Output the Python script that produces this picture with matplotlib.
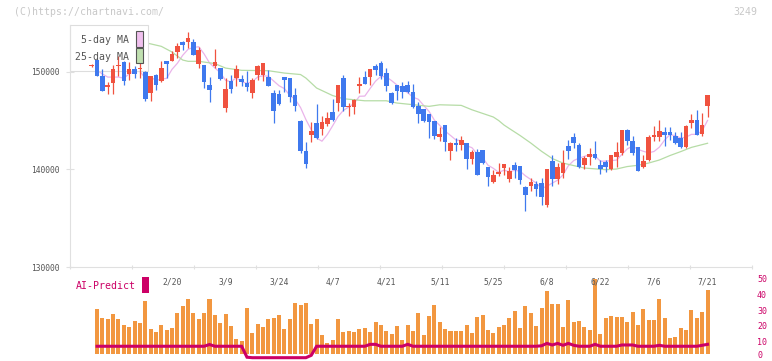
import numpy as np
import matplotlib
matplotlib.use("Agg")
import matplotlib.pyplot as plt
from matplotlib.patches import Rectangle

# daily candles (oldest first), prices in yen
open_ = [150600, 151200, 149570, 148380, 148820, 150610, 150970, 149770, 150250, 150280,
         149920, 147800, 149670, 149000, 151100, 151100, 151990, 153010, 153010, 153010,
         150810, 150660, 148650, 150590, 150350, 146270, 149000, 149330, 149260, 148820,
         147800, 149670, 149670, 149430, 147800, 147700, 149400, 149330, 147600, 144970,
         141880, 143540, 144740, 144150, 144630, 145860, 146780, 149330, 146340, 146370,
         148550, 149430, 149400, 150590, 150870, 149840, 147800, 148650, 148550, 148650,
         147900, 146440, 146170, 145650, 144910, 143270, 144500, 141910, 142690, 142520,
         142690, 141090, 141770, 142010, 140240, 138710, 139560, 140140, 139050, 140480,
         140370, 138200, 138330, 138540, 138610, 136390, 140820, 139050, 139630, 142420,
         143310, 142520, 140480, 141230, 141570, 140480, 140750, 140070, 141260, 141670,
         144050, 142870, 142280, 140240, 140990, 143270, 143270, 143790, 143790, 143380,
         143200, 142280, 144770, 145010, 143610, 146500]
high = [150760, 151270, 150250, 148920, 150690, 151580, 151040, 150940, 150530, 151070,
        150020, 149590, 149700, 151040, 151120, 152060, 152910, 153140, 154030, 153350,
        152500, 150700, 149430, 152330, 150400, 149330, 149670, 150630, 149670, 150020,
        149330, 150690, 150900, 150180, 148140, 148110, 149450, 149380, 148280, 145070,
        142760, 144840, 146680, 145420, 145860, 147220, 148670, 149670, 146780, 147190,
        149430, 150020, 150300, 150760, 151040, 150350, 147870, 148670, 148920, 149030,
        148720, 146880, 146220, 145680, 144940, 144330, 144530, 142760, 143200, 143440,
        142740, 142010, 142110, 142030, 140260, 139900, 140650, 140600, 140210, 140750,
        140390, 138330, 139120, 138780, 139120, 140090, 141500, 140650, 142010, 143030,
        143710, 142690, 141400, 142180, 142870, 140930, 140990, 141520, 142800, 144070,
        144120, 143380, 142330, 141500, 143540, 144400, 145010, 144300, 144300, 143820,
        143820, 144560, 145650, 146030, 145760, 147600]
low = [150460, 149540, 147970, 147730, 147730, 149510, 148650, 149160, 149330, 149330,
       146950, 147010, 148140, 148920, 149330, 151040, 151380, 152220, 152400, 151650,
       150320, 148280, 146880, 150350, 149160, 145860, 147800, 148480, 148480, 147970,
       147290, 149160, 149000, 148480, 144740, 146600, 147900, 146910, 145990, 141700,
       140170, 142800, 143100, 143540, 144400, 144970, 145930, 145930, 145420, 145650,
       147800, 148720, 148590, 149670, 149260, 148040, 146710, 147050, 147290, 147800,
       146270, 144740, 144840, 143200, 143130, 142870, 141910, 140990, 141910, 142010,
       140070, 140550, 139390, 140600, 138330, 138610, 139290, 139450, 138710, 139120,
       138500, 135720, 137760, 137250, 136390, 136150, 138270, 138500, 139120, 141090,
       142180, 140140, 140070, 140480, 141110, 139560, 139730, 139970, 140240, 141500,
       142520, 141500, 139830, 140140, 140880, 142870, 142930, 142360, 143030, 142640,
       142230, 142230, 144230, 143510, 143440, 145350]
close_ = [150660, 149570, 148040, 148650, 150250, 150680, 149000, 150250, 149770, 150350,
          147220, 149510, 148650, 150350, 150790, 151820, 152630, 152730, 153420, 151710,
          152160, 148950, 148140, 150940, 149260, 148210, 148210, 150250, 148890, 148410,
          149100, 150590, 150870, 148550, 145990, 146680, 149160, 147390, 146500, 141850,
          140550, 143950, 143200, 144840, 145250, 145070, 148650, 146370, 146500, 147120,
          148720, 148750, 150250, 150180, 149570, 148550, 146780, 148040, 147900, 147870,
          146340, 145650, 144910, 144840, 143440, 143610, 142760, 142690, 142520, 143030,
          141090, 141770, 139450, 140650, 139220, 139450, 139730, 140550, 139860, 139970,
          138940, 137410, 138710, 138020, 137180, 140040, 139050, 140240, 140650, 141910,
          142690, 140240, 141160, 141570, 141160, 140070, 140240, 141500, 141770, 144050,
          142870, 141670, 139860, 140820, 143310, 143510, 143890, 143540, 143540, 142690,
          142280, 144400, 145010, 143540, 144500, 147570]

ma5 = [150350, 150150, 149740, 149430, 149430, 149430, 149320, 149760, 149990, 150010,
       149320, 149420, 149100, 149220, 149300, 150220, 150840, 151660, 152270, 152460,
       152530, 151790, 150870, 150370, 149880, 149100, 148950, 149370, 148960, 148790,
       148970, 149440, 149570, 149510, 149020, 148540, 148250, 147550, 147150, 146320,
       145090, 144050, 143210, 142880, 143560, 144460, 145400, 146030, 146370, 146740,
       147470, 147490, 148270, 149010, 149500, 149450, 149070, 148620, 148170, 147830,
       147380, 147160, 146530, 145920, 145030, 144490, 143910, 143470, 143010, 142930,
       142420, 142220, 141570, 141200, 140430, 140110, 139700, 139920, 139760, 139910,
       139810, 139340, 138970, 138610, 138060, 138270, 138600, 138900, 139430, 140370,
       140900, 141150, 141330, 141520, 141360, 140840, 140840, 140900, 140950, 141530,
       142090, 142380, 142050, 141850, 141700, 141830, 142270, 143010, 143560, 143440,
       143190, 143300, 143580, 143580, 143950, 145000]

# 25-day MA read at these days
ma25_day = [9, 10, 13, 15, 17, 18, 20, 23, 25, 28, 33, 36, 39, 40, 42, 45, 47, 51, 55, 57,
            63, 65, 69, 71, 75, 76, 77, 78, 80, 82, 84, 86, 88, 90, 92, 96, 98, 100, 102,
            104, 106, 108, 110, 112, 115]
ma25 = [153060, 152950, 152570, 151990, 151170, 151040, 151040, 150810, 150350, 150120,
        150080, 149840, 149690, 149330, 148310, 147540, 147220, 147010, 147010, 146780,
        146440, 146600, 146540, 146090, 145350, 144990, 144530, 144170, 143460, 142690,
        141850, 141110, 140650, 140390, 140140, 139970, 140040, 140290, 140420,
        140650, 140960, 141420, 141820, 142250, 142670]

volume = [0, 450, 360, 350, 400, 350, 290, 270, 330, 310,
          530, 250, 220, 290, 240, 260, 410, 480, 550, 410,
          350, 410, 550, 390, 310, 400, 280, 150, 133, 460,
          210, 300, 270, 350, 360, 390, 250, 350, 510, 490,
          510, 300, 350, 190, 113, 140, 350, 220, 230, 220,
          250, 260, 220, 320, 290, 230, 200, 280, 140, 290,
          230, 410, 190, 380, 490, 320, 250, 230, 230, 230,
          290, 210, 370, 390, 240, 210, 270, 290, 360, 430,
          260, 480, 410, 280, 460, 630, 500, 500, 270, 540,
          320, 330, 270, 240, 750, 200, 360, 380, 370, 370,
          320, 420, 290, 450, 340, 340, 550, 360, 160, 170,
          260, 240, 440, 360, 420, 640]

ai_predict = [np.nan, 7.2, 7.2, 7.2, 7.2, 7.2, 7.2, 7.2, 7.2, 7.2,
              7.2, 7.2, 7.2, 7.2, 7.2, 7.2, 7.2, 7.2, 7.2, 7.2,
              7.2, 7.2, 8.3, 7.2, 7.2, 7.2, 7.2, 7.2, 7.2, 0.3,
              0, 0, 0, 0, 0, 0, 0, 0, 0, 0,
              0, 1.5, 7.2, 7.2, 7.2, 7.2, 7.2, 7.2, 7.2, 7.2,
              7.2, 7.2, 8.4, 8.4, 7.2, 7.2, 7.2, 7.2, 7.2, 8.4,
              7.2, 7.2, 7.2, 7.2, 7.2, 7.2, 7.2, 7.2, 7.2, 7.2,
              7.2, 7.2, 7.2, 7.2, 7.2, 7.2, 7.2, 7.2, 7.2, 7.2,
              7.2, 7.2, 7.2, 7.2, 7.5, 9.0, 8.0, 9.0, 7.8, 9.0,
              7.8, 7.2, 7.2, 7.2, 8.4, 7.2, 7.2, 7.2, 7.2, 8.0,
              8.0, 8.0, 7.2, 7.2, 7.2, 7.2, 7.8, 7.2, 7.2, 7.2,
              7.2, 7.2, 7.2, 7.2, 7.8, 8.4]

date_day = [15, 25, 35, 45, 55, 65, 75, 85, 95, 105, 115]
date_label = ["2/20", "3/9", "3/24", "4/7", "4/21", "5/11", "5/25", "6/8", "6/22", "7/6", "7/21"]
price_ticks = [130000, 140000, 150000]
ai_ticks = [10, 20, 30, 40, 50]

UP = "#f0523f"
DOWN = "#3f79ee"
GRID = "#e0e0e0"
TXT = "#555555"
AI = "#cc0066"

plt.rcParams["font.family"] = "DejaVu Sans Mono"

W, H = 772, 361
fig = plt.figure(figsize=(W / 100, H / 100), dpi=100)
days = np.arange(len(close_))
xlim = (-4.05, 123.3)

# lower panel: volume + AI line
low_rect = [70 / W, 1 - 357.7 / H, 682 / W, 79.5 / H]
ax_vol = fig.add_axes(low_rect)
ax_vol.bar(days, volume, width=0.75, color="#f29740", linewidth=0)
ax_vol.set_xlim(*xlim)
ax_vol.set_ylim(-37, 758)
ax_vol.axis("off")

ax_ai = fig.add_axes(low_rect, facecolor="none")
ax_ai.plot(days, ai_predict, color=AI, lw=2.2, clip_on=False, solid_joinstyle="miter")
ax_ai.set_xlim(*xlim)
ax_ai.set_ylim(0, 50)
ax_ai.set_yticks(ai_ticks)
ax_ai.yaxis.tick_right()
ax_ai.tick_params(axis="y", length=0, pad=3.6, labelsize=6, labelcolor=AI)
ax_ai.set_xticks([])
for s in ax_ai.spines.values():
    s.set_visible(False)
# the zero label sits at the very bottom edge, nudge it up so it stays whole
ax_ai.annotate("0", xy=(1, 0), xycoords="axes fraction", xytext=(3.6, 1.3),
               textcoords="offset points", ha="left", va="center",
               fontsize=6, color=AI, annotation_clip=False)

# main price panel
ax = fig.add_axes([70 / W, 1 - 267.3 / H, 682 / W, 242.3 / H])
ax.set_xlim(*xlim)
ax.set_ylim(130000, 154750)

ax.plot(days, ma5, color="#eab4ea", lw=0.9, zorder=1)
ax.plot(ma25_day, ma25, color="#b6dca6", lw=0.9, zorder=1)

for d, o, h, l, c in zip(days, open_, high, low, close_):
    col = UP if c >= o else DOWN
    ax.vlines(d, l, h, color=col, lw=0.9, zorder=3)
    ax.bar(d, max(abs(c - o), 70), bottom=min(o, c), width=0.86, color=col,
           linewidth=0, zorder=3)

# legend box sits under the candles
ax.add_patch(Rectangle((0, 0.8089), 0.1148, 0.1911, transform=ax.transAxes,
                       facecolor="white", edgecolor="#dddddd", lw=0.8,
                       clip_on=False, zorder=2))

for s in ["top", "right"]:
    ax.spines[s].set_visible(False)
for s in ["left", "bottom"]:
    ax.spines[s].set_color(GRID)
    ax.spines[s].set_linewidth(0.8)

ax.set_xticks(np.linspace(xlim[0], xlim[1], 12))
ax.tick_params(axis="x", direction="inout", length=3.4, width=0.8, color=GRID,
               labelbottom=False)
ax.set_yticks(price_ticks)
ax.set_yticklabels([str(p) for p in price_ticks])
ax.tick_params(axis="y", direction="inout", length=5.8, width=0.8, color=GRID,
               pad=4.6, labelsize=5.7, labelcolor=TXT)

for d, lab in zip(date_day, date_label):
    ax.text(d, -0.0627, lab, transform=ax.get_xaxis_transform(), ha="center",
            va="center", fontsize=5.8, color=TXT, clip_on=False)

# texts and swatches
fig.text(14 / W, 1 - 12.3 / H, "(C)https://chartnavi.com/", fontsize=7.1,
         color="#c8c8c8", ha="left", va="center")
fig.text(757 / W, 1 - 12.3 / H, "3249", fontsize=7.1, color="#c8c8c8",
         ha="right", va="center")
fig.text(129.3 / W, 1 - 39.7 / H, "5-day MA", fontsize=7.1, color=TXT,
         ha="right", va="center")
fig.text(129.3 / W, 1 - 56.7 / H, "25-day MA", fontsize=7.1, color=TXT,
         ha="right", va="center")
fig.patches.append(Rectangle((136 / W, 1 - 46.7 / H), 6.7 / W, 15.7 / H,
                             transform=fig.transFigure, facecolor="#f0c0ee",
                             edgecolor="#555555", lw=0.8))
fig.patches.append(Rectangle((136 / W, 1 - 63.3 / H), 6.7 / W, 15.0 / H,
                             transform=fig.transFigure, facecolor="#c0e0b0",
                             edgecolor="#555555", lw=0.8))
fig.text(76 / W, 1 - 286 / H, "AI-Predict", fontsize=7.1, color=AI,
         ha="left", va="center")
fig.patches.append(Rectangle((142.3 / W, 1 - 292.7 / H), 6.4 / W, 15.4 / H,
                             transform=fig.transFigure, facecolor=AI, lw=0))

fig.savefig("out.png", dpi=100)
